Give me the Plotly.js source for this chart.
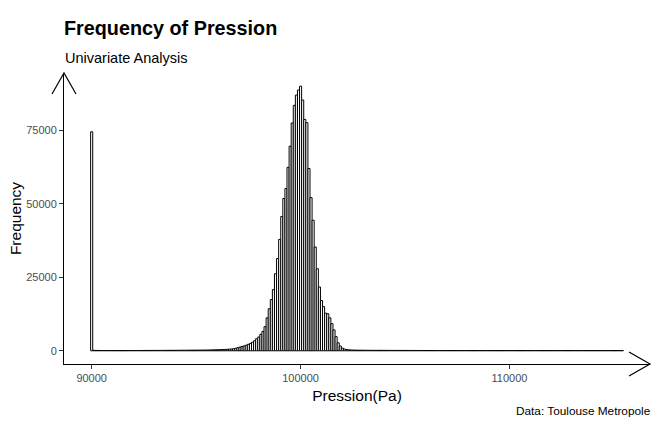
<!DOCTYPE html>
<html><head><meta charset="utf-8">
<script src="https://cdn.plot.ly/plotly-3.0.1.min.js"></script>
<style>html,body{margin:0;padding:0;background:#fff}#chart{width:658px;height:425px}</style>
</head><body><div id="chart"></div>
<script>
// Histogram of pressure (Pa), bins of 100 Pa centred on multiples of 100
const binStart = 90000;
const binWidth = 100;
const counts = [
  74500,
  160,120,110,100,95,90,90,85,85,80,
  80,80,85,80,80,85,90,85,90,90,
  95,95,100,100,105,110,110,115,120,120,
  125,130,130,135,140,145,150,150,155,160,
  165,170,175,180,185,190,200,205,210,220,
  225,235,240,250,260,270,285,300,320,345,
  370,400,430,460,500,560,620,700,850,1050,
  1250,1450,1650,1900,2200,2500,2900,3400,4100,4700,
  5600,6600,8200,11200,14300,17400,20800,26200,31400,37900,
  45700,51800,55200,62400,69600,77500,83500,87000,88700,90000,
  85300,78700,77600,62000,52100,44400,35300,27900,21700,17100,
  15000,12800,12600,11200,9200,7100,4800,2700,1600,900,
  600,420,330,280,250,230,210,200,190,180,
  175,170,165,160,155,150,150,145,140,140,
  135,135,130,130,125,125,120,120,115,115,
  110,110,110,105,105,105,100,100,100,100,
  95,95,95,95,90,90,90,90,90,90,
  85,85,85,85,85,85,80,80,80,80,
  82,80,78,80,82,80,78,80,80,82,
  80,78,80,82,80,78,80,80,82,80,
  78,80,82,80,78,80,80,82,80,78,
  80,82,80,78,80,80,82,80,78,80,
  82,80,78,80,80,82,80,78,80,82,
  80,78,80,80,82,80,78,80,82,80,
  78,80,80,82,80,78,80,82,80,78,
  80,82,80,78
];
const xTicks = [90000, 100000, 110000];
const yTicks = [0, 25000, 50000, 75000];
const titleText = 'Frequency of Pression';
const subtitleText = 'Univariate Analysis';
const xTitle = 'Pression(Pa)';
const yTitle = 'Frequency';
const captionText = 'Data: Toulouse Metropole';

const xs = counts.map((_, i) => binStart + i * binWidth);
const yMax = Math.max(...counts);
const lo = binStart - binWidth / 2;
const hi = binStart + (counts.length - 0.5) * binWidth;
const span = hi - lo;

const FONT = 'Liberation Sans, Arial, Helvetica, sans-serif';

const trace = {
  type: 'bar',
  x: xs,
  y: counts,
  width: binWidth,
  marker: {color: 'white', line: {color: 'black', width: 1}},
  hoverinfo: 'x+y'
};

const layout = {
  width: 658, height: 425,
  margin: {l: 64, r: 8, t: 73, b: 61, pad: 0},
  paper_bgcolor: 'white', plot_bgcolor: 'white',
  showlegend: false,
  font: {family: FONT, color: '#000'},
  title: {
    text: '<b>' + titleText + '</b>',
    font: {family: FONT, size: 19.8, color: '#000'},
    x: 64 / 658, xref: 'container', xanchor: 'left',
    y: 1 - 21 / 425, yref: 'container', yanchor: 'top'
  },
  xaxis: {
    range: [lo - 0.05 * span, hi + 0.05 * span],
    tickvals: xTicks, tickformat: 'd',
    ticks: 'outside', ticklen: 4, tickwidth: 1, tickcolor: '#333333',
    tickfont: {family: FONT, size: 11, color: '#4d4d4d'},
    showline: true, linecolor: '#000', linewidth: 1,
    showgrid: false, zeroline: false,
    title: {text: xTitle, font: {family: FONT, size: 15.5, color: '#000'}, standoff: 6}
  },
  yaxis: {
    range: [-0.05 * yMax, 1.05 * yMax],
    tickvals: yTicks, tickformat: 'd',
    ticks: 'outside', ticklen: 4, tickwidth: 1, tickcolor: '#333333',
    tickfont: {family: FONT, size: 11, color: '#4d4d4d'},
    showline: true, linecolor: '#000', linewidth: 1,
    showgrid: false, zeroline: false,
    title: {text: yTitle, font: {family: FONT, size: 15.5, color: '#000'}, standoff: 0}
  },
  shapes: [
    {type: 'path', xref: 'paper', yref: 'paper', xanchor: 1, yanchor: 0,
     xsizemode: 'pixel', ysizemode: 'pixel',
     path: 'M-21,12L0,0L-21,-12', line: {color: '#000', width: 1.2}},
    {type: 'path', xref: 'paper', yref: 'paper', xanchor: 0, yanchor: 1,
     xsizemode: 'pixel', ysizemode: 'pixel',
     path: 'M-12,-21L0,0L12,-21', line: {color: '#000', width: 1.2}}
  ],
  annotations: [
    {text: subtitleText, xref: 'paper', yref: 'paper', x: 0, xshift: -1,
     y: (364 - 58) / 291, xanchor: 'left', yanchor: 'middle', showarrow: false,
     font: {family: FONT, size: 14.5, color: '#000'}},
    {text: captionText, xref: 'paper', yref: 'paper', x: (653 - 64) / 586,
     y: (364 - 411) / 291, xanchor: 'right', yanchor: 'middle', showarrow: false,
     font: {family: FONT, size: 11.8, color: '#000'}}
  ]
};

Plotly.newPlot('chart', [trace], layout, {displayModeBar: false, staticPlot: true});
</script>
</body></html>
